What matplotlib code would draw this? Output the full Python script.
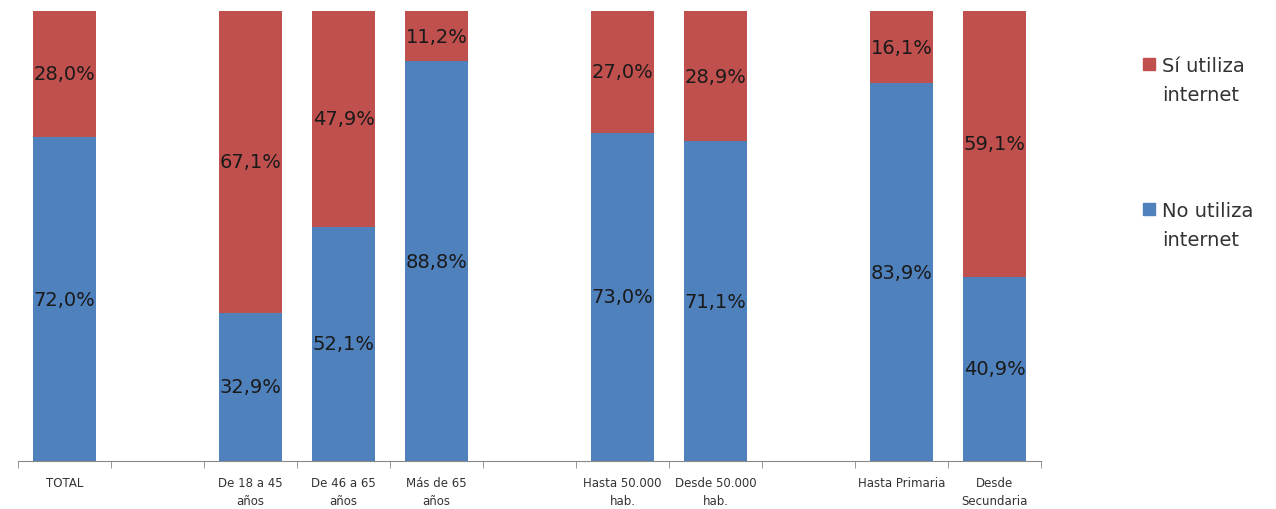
import numpy as np
import matplotlib.pyplot as plt
from matplotlib.patches import Rectangle

categories = ['TOTAL', '', 'De 18 a 45\naños', 'De 46 a 65\naños', 'Más de 65\naños', '',
              'Hasta 50.000\nhab.', 'Desde 50.000\nhab.', '', 'Hasta Primaria', 'Desde\nSecundaria']
no_utiliza = [72.0, None, 32.9, 52.1, 88.8, None, 73.0, 71.1, None, 83.9, 40.9]
si_utiliza = [28.0, None, 67.1, 47.9, 11.2, None, 27.0, 28.9, None, 16.1, 59.1]
legend_labels = ['Sí utiliza\ninternet', 'No utiliza\ninternet']

blue = '#4F81BD'
red = '#C0504D'

W, H = 1276, 510
fig = plt.figure(figsize=(W / 100, H / 100), dpi=100)
ax = fig.add_axes([18 / W, 48 / H, 1023 / W, 450 / H])

x = np.arange(len(categories))
idx = [i for i, v in enumerate(no_utiliza) if v is not None]
no = np.array([no_utiliza[i] for i in idx])
si = np.array([si_utiliza[i] for i in idx])
xs = x[idx]

w = 0.68
ax.bar(xs, no, w, color=blue)
ax.bar(xs, si, w, bottom=no, color=red)

for xi, n, s in zip(xs, no, si):
    ax.text(xi, n / 2, f'{n:.1f}%'.replace('.', ','), ha='center', va='center',
            fontsize=14, color='#1a1a1a')
    ax.text(xi, n + s / 2, f'{s:.1f}%'.replace('.', ','), ha='center', va='center',
            fontsize=14, color='#1a1a1a')

ax.set_xlim(-0.5, len(categories) - 0.5)
ax.set_ylim(0, 100)
ax.set_yticks([])
ax.set_xticks(x)
ax.set_xticklabels(categories, fontsize=8.5, color='#333333', linespacing=1.5)
ax.tick_params(axis='x', which='major', length=0, pad=11)
ax.set_xticks(np.arange(-0.5, len(categories)), minor=True)
ax.tick_params(axis='x', which='minor', length=5, color='#888888')
for side in ['top', 'right', 'left']:
    ax.spines[side].set_visible(False)
ax.spines['bottom'].set_color('#888888')

# legend drawn by hand so the square lines up with the first text line
for label, col, y0 in zip(legend_labels, [red, blue], [65, 210]):
    fig.patches.append(Rectangle((1143 / W, 1 - (y0 + 6) / H), 12 / W, 12 / H,
                                 transform=fig.transFigure, color=col))
    fig.text(1162 / W, 1 - (y0 + 16) / H, label, fontsize=14, color='#333333',
             va='center', ha='left', linespacing=1.65)

fig.savefig('out.png', dpi=100)
